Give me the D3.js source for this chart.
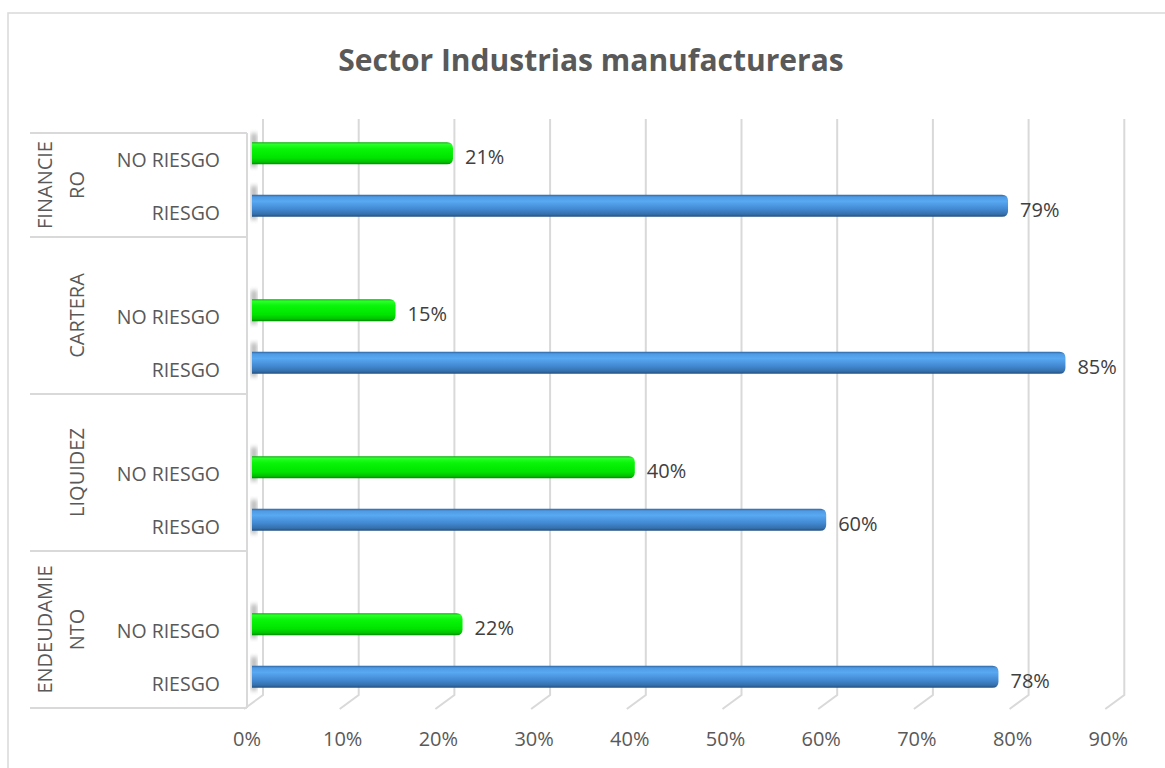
<!DOCTYPE html>
<html>
<head>
<meta charset="utf-8">
<script src="https://cdn.jsdelivr.net/npm/d3@7"></script>
<style>
  body { margin: 0; background: #fff; }
  text { font-family: "Open Sans", sans-serif; fill: #595959; }
</style>
</head>
<body>
<svg id="chart" width="1165" height="768"></svg>
<script>
// data
var groups = ["FINANCIERO", "CARTERA", "LIQUIDEZ", "ENDEUDAMIENTO"];
var groupLines = [["FINANCIE", "RO"], ["CARTERA"], ["LIQUIDEZ"], ["ENDEUDAMIE", "NTO"]];
var series = ["NO RIESGO", "RIESGO"];
var noRiesgo = [0.21, 0.15, 0.40, 0.22];
var riesgo = [0.79, 0.85, 0.60, 0.78];
var ticks = [0, 0.1, 0.2, 0.3, 0.4, 0.5, 0.6, 0.7, 0.8, 0.9];

var svg = d3.select("#chart");

// 3d-ish offsets between front plane and back wall
var back = {dx: 11, dy: -14}, floorY = 709, topY = 133;

var x = d3.scaleLinear().domain([0, 0.9]).range([252, 252 + 0.9 * 957]);
var y0 = d3.scaleBand().domain(groups).range([80, 708]);
var y1 = d3.scaleBand().domain(series).range([47, 152]);

var rows = [];
groups.forEach(function(g, i) {
  rows.push({g: g, s: "NO RIESGO", v: noRiesgo[i]});
  rows.push({g: g, s: "RIESGO", v: riesgo[i]});
});

// outer border
svg.append("rect").attr("x", 8).attr("y", 13).attr("width", 1170).attr("height", 770)
  .attr("fill", "none").attr("stroke", "#d9d9d9").attr("stroke-width", 1.5);

// title
svg.append("text").attr("x", 591).attr("y", 71).attr("text-anchor", "middle")
  .style("font-size", "30px").style("font-weight", "bold").text("Sector Industrias manufactureras");

var defs = svg.append("defs");
function grad(id, stops) {
  var lg = defs.append("linearGradient").attr("id", id).attr("x1", 0).attr("y1", 0).attr("x2", 0).attr("y2", 1);
  stops.forEach(function(s) { lg.append("stop").attr("offset", s[0]).attr("stop-color", s[1]); });
}
grad("gGreen", [[0, "#00a800"], [0.08, "#2cff2c"], [0.3, "#08f508"], [0.7, "#00e400"], [0.9, "#00c000"], [1, "#008a00"]]);
grad("gBlue", [[0, "#2c64a0"], [0.1, "#4f9be4"], [0.3, "#58a8f2"], [0.65, "#4289d2"], [0.88, "#3670ad"], [1, "#22507e"]]);
defs.append("filter").attr("id", "blur").append("feGaussianBlur").attr("stdDeviation", 2.2);

// gridlines on the back wall, with a short floor edge
var grid = svg.append("g").attr("stroke", "#d9d9d9").attr("stroke-width", 2).attr("fill", "none");
grid.selectAll("path").data(ticks).enter().append("path")
  .attr("d", function(d) {
    var bx = x(d) + back.dx;
    return "M" + bx + "," + (topY + back.dy) + "V" + (floorY + back.dy) +
      "L" + (bx - 19) + "," + floorY;
  });

// category axis box
var axis = svg.append("g").attr("stroke", "#d9d9d9").attr("stroke-width", 2);
var seps = groups.map(function(g) { return Math.max(y0(g), topY); }).concat([708]);
axis.selectAll("line.sep").data(seps).enter().append("line")
  .attr("x1", 30).attr("x2", 247).attr("y1", function(d) { return d; }).attr("y2", function(d) { return d; });
axis.append("line").attr("x1", 247).attr("x2", 247).attr("y1", topY).attr("y2", 708);

// bar shadows on the wall
svg.append("g").selectAll("rect").data(rows).enter().append("rect")
  .attr("x", 251).attr("width", 6)
  .attr("y", function(d) { return y0(d.g) + y1(d.s) + y1.bandwidth() / 2 - 20; })
  .attr("height", 34).attr("fill", "#9a9a9a").attr("opacity", 0.7).attr("filter", "url(#blur)");

// bars
var bh = 22, r = 6;
svg.append("g").selectAll("path").data(rows).enter().append("path")
  .attr("fill", function(d) { return d.s === "RIESGO" ? "url(#gBlue)" : "url(#gGreen)"; })
  .attr("d", function(d) {
    var cy = y0(d.g) + y1(d.s) + y1.bandwidth() / 2;
    var x0 = x(0), x1 = x(d.v), t = cy - bh / 2, b = cy + bh / 2;
    return "M" + x0 + "," + t + "H" + (x1 - r) + "Q" + x1 + "," + t + " " + x1 + "," + (t + r) +
      "V" + (b - r) + "Q" + x1 + "," + b + " " + (x1 - r) + "," + b + "H" + x0 + "Z";
  });

// value labels
svg.append("g").selectAll("text").data(rows).enter().append("text")
  .attr("x", function(d) { return x(d.v) + 12; })
  .attr("y", function(d) { return y0(d.g) + y1(d.s) + y1.bandwidth() / 2 + 11; })
  .style("font-size", "20px").style("fill", "#404040")
  .text(function(d) { return Math.round(d.v * 100) + "%"; });

// series labels
svg.append("g").selectAll("text").data(rows).enter().append("text")
  .attr("x", 220).attr("text-anchor", "end")
  .attr("y", function(d) { return y0(d.g) + y1(d.s) + y1.bandwidth() / 2 + 14; })
  .style("font-size", "19.5px")
  .text(function(d) { return d.s; });

// group labels (rotated, wrapped like the original)
groups.forEach(function(g, i) {
  var top = Math.max(y0(g), topY), cy = (top + y0(g) + y0.bandwidth()) / 2;
  var lines = groupLines[i];
  lines.forEach(function(t, j) {
    var lx = lines.length === 1 ? 77 : 45 + j * 32;
    svg.append("text").attr("transform", "translate(" + (lx + 7) + "," + cy + ") rotate(-90)")
      .attr("text-anchor", "middle").style("font-size", "20px").text(t);
  });
});

// x tick labels
svg.append("g").selectAll("text").data(ticks).enter().append("text")
  .attr("x", function(d) { return x(d) - 5; }).attr("y", 746).attr("text-anchor", "middle")
  .style("font-size", "20px")
  .text(d3.format(".0%"));
</script>
</body>
</html>
